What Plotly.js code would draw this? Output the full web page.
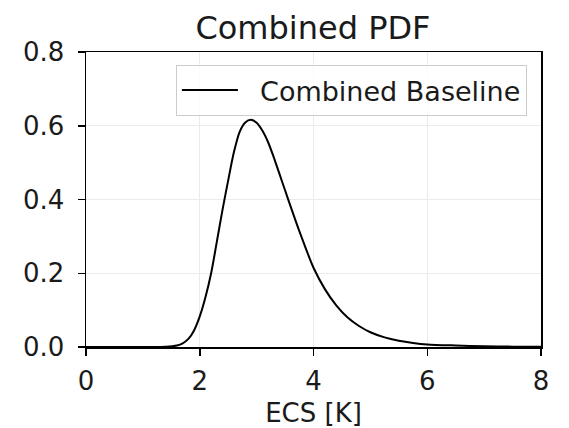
<!DOCTYPE html>
<html>
<head>
<meta charset="utf-8">
<script src="https://cdn.plot.ly/plotly-3.0.1.min.js"></script>
<style>html,body{margin:0;padding:0;background:#fff;}#chart{width:569px;height:428px;}</style>
</head>
<body>
<div id="chart"></div>
<script>
const ecs = [0, 0.5, 1.0, 1.4, 1.6, 1.7, 1.8, 1.9, 2.0, 2.1, 2.2, 2.3, 2.4, 2.5, 2.6, 2.7, 2.8, 2.9, 3.0, 3.1, 3.2, 3.3, 3.4, 3.5, 3.6, 3.7, 3.8, 3.9, 4.0, 4.2, 4.4, 4.6, 4.8, 5.0, 5.25, 5.5, 5.75, 6.0, 6.5, 7.0, 7.5, 8.0];
const pdf = [0, 0, 0, 0.0005, 0.004, 0.010, 0.022, 0.045, 0.083, 0.135, 0.20, 0.285, 0.372, 0.452, 0.528, 0.583, 0.609, 0.616, 0.608, 0.587, 0.556, 0.515, 0.470, 0.425, 0.380, 0.336, 0.294, 0.253, 0.215, 0.157, 0.113, 0.080, 0.057, 0.040, 0.026, 0.017, 0.011, 0.007, 0.004, 0.002, 0.001, 0.0005];
const xTicks = [0, 2, 4, 6, 8];
const yTicks = [0.0, 0.2, 0.4, 0.6, 0.8];
const yTickText = ['0.0', '0.2', '0.4', '0.6', '0.8'];

const font = 'DejaVu Sans, sans-serif';
const trace = {
  x: ecs, y: pdf, type: 'scatter', mode: 'lines',
  name: '\u00a0\u00a0Combined Baseline',
  line: {color: '#000000', width: 2, shape: 'spline', smoothing: 0.8}
};
const layout = {
  width: 569, height: 428,
  margin: {l: 86, r: 28, t: 52, b: 81},
  paper_bgcolor: '#ffffff', plot_bgcolor: '#ffffff',
  font: {family: font, color: '#1a1a1a', size: 27},
  title: {text: 'Combined PDF', font: {family: font, size: 32, color: '#1a1a1a'}, x: 0.55, xanchor: 'center', y: 0.935, yanchor: 'middle'},
  xaxis: {
    range: [0, 8], tickvals: xTicks, ticktext: xTicks.map(String),
    showline: true, linecolor: '#000', linewidth: 1.5, mirror: true,
    ticks: 'outside', ticklen: 7, tickwidth: 1.5, tickcolor: '#000',
    ticklabelstandoff: 3,
    showgrid: true, gridcolor: '#ebebeb', gridwidth: 1, zeroline: false,
    tickfont: {family: font, size: 26, color: '#1a1a1a'},
    title: {text: 'ECS [K]', font: {family: font, size: 26, color: '#1a1a1a'}, standoff: 10}
  },
  yaxis: {
    range: [0, 0.8], tickvals: yTicks, ticktext: yTickText,
    showline: true, linecolor: '#000', linewidth: 1.5, mirror: true,
    ticks: 'outside', ticklen: 7, tickwidth: 1.5, tickcolor: '#000',
    ticklabelstandoff: 8,
    showgrid: true, gridcolor: '#ebebeb', gridwidth: 1, zeroline: false,
    tickfont: {family: font, size: 26, color: '#1a1a1a'}
  },
  showlegend: true,
  legend: {
    x: 0.969, xanchor: 'right', y: 0.956, yanchor: 'top',
    bgcolor: 'rgba(255,255,255,0.8)', bordercolor: '#cccccc', borderwidth: 1,
    font: {family: font, size: 27, color: '#1a1a1a'},
    itemwidth: 56
  }
};
Plotly.newPlot('chart', [trace], layout, {displayModeBar: false, staticPlot: true});
</script>
</body>
</html>
